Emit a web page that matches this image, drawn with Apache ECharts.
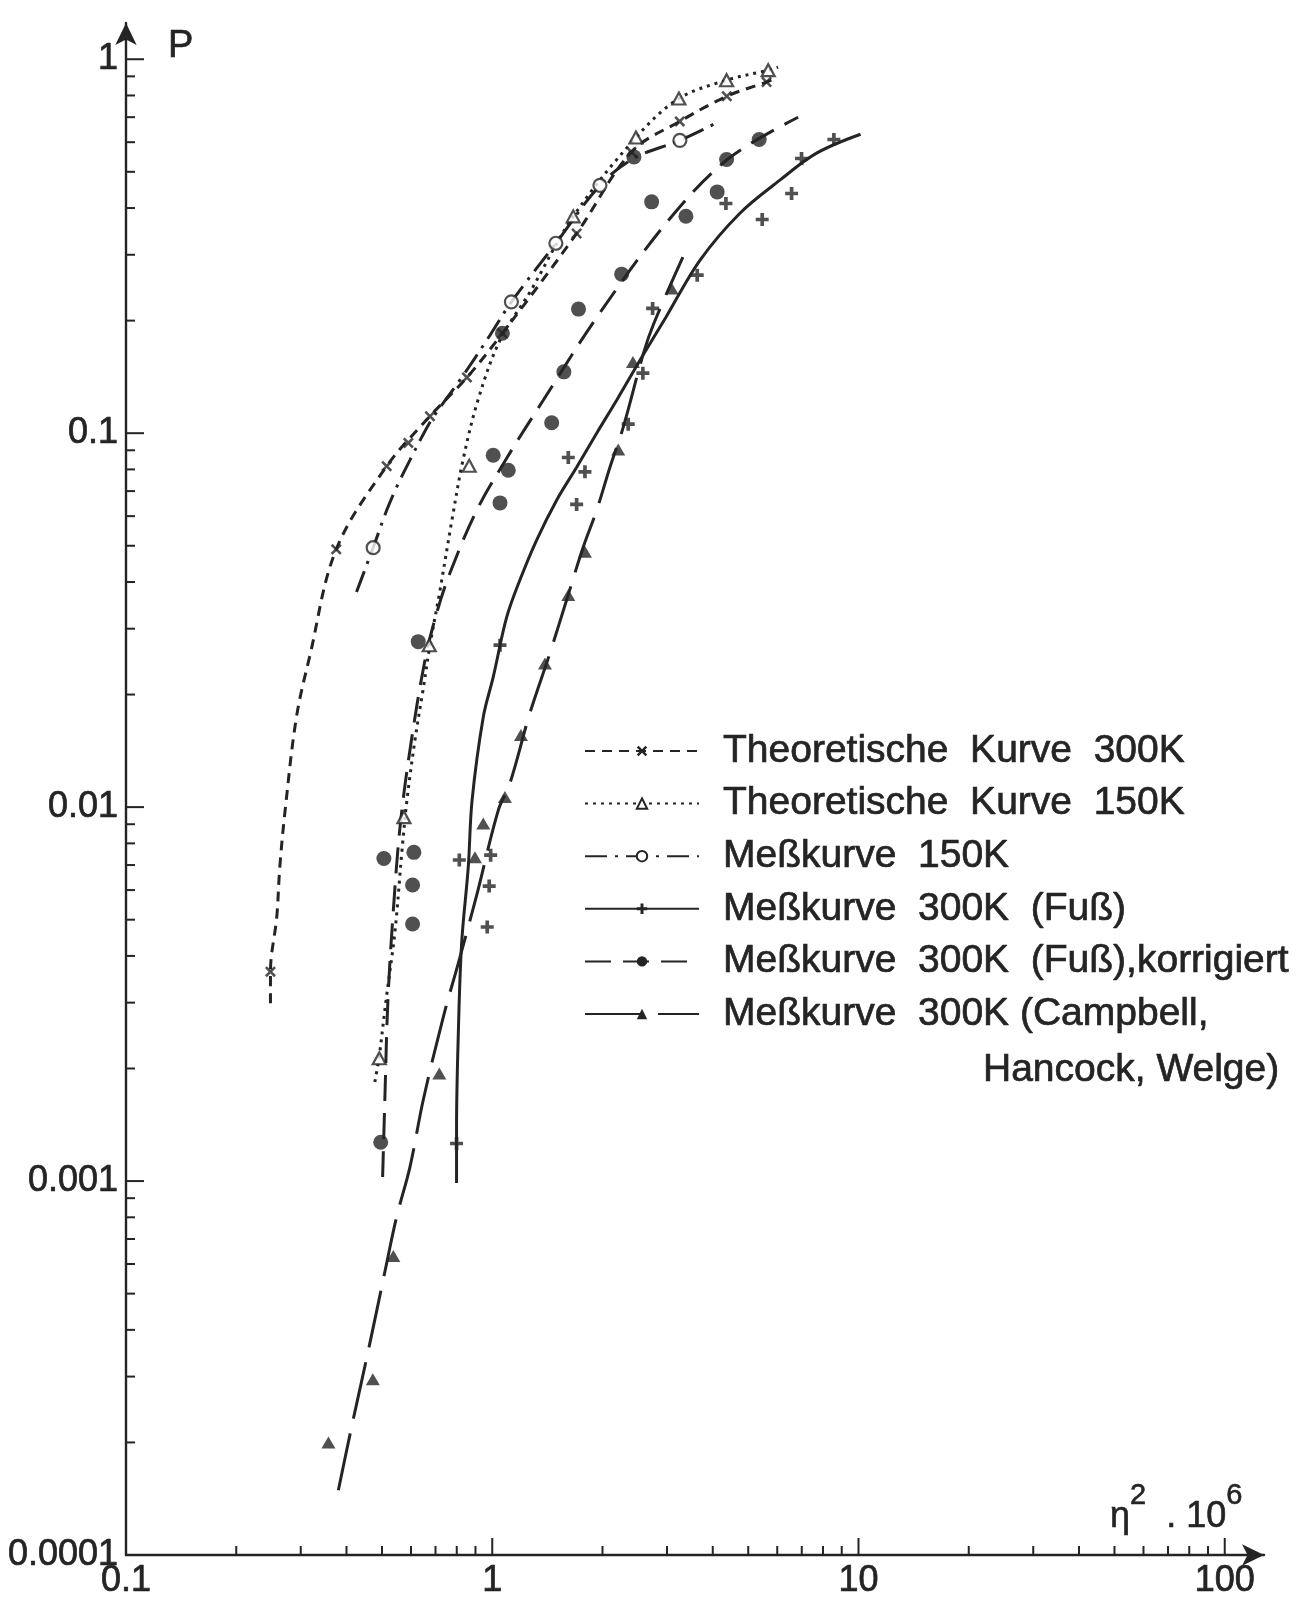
<!DOCTYPE html>
<html>
<head>
<meta charset="utf-8">
<script src="https://cdn.jsdelivr.net/npm/echarts@6/dist/echarts.min.js"></script>
<style>
  html, body { margin: 0; padding: 0; background: #ffffff; }
  #chart { width: 1300px; height: 1604px; }
</style>
</head>
<body>
<div id="chart"></div>
<script>
// Übergangswahrscheinlichkeit P über eta^2 * 10^6, doppelt logarithmisch

const INK = '#242424';

// axis ranges (the extra room past 100 and 1 carries the arrow heads)
const X_MIN = 0.1, X_MAX = 128;
const Y_MIN = 0.0001, Y_MAX = 1.25;

// tick structure: decades and the in-between marks 2..9
const xDecades = [0.1, 1, 10, 100];
const yDecades = [0.0001, 0.001, 0.01, 0.1, 1];
const mantissas = [2, 3, 4, 5, 6, 7, 8, 9];

// --- Theoretische Kurve 300 K ---
const theo300Marks = [
  [0.248, 0.00363], [0.375, 0.0489], [0.515, 0.0816], [0.590, 0.0942],
  [0.676, 0.111], [0.853, 0.141], [1.066, 0.185], [1.70, 0.342],
  [2.40, 0.565], [3.25, 0.682], [4.37, 0.796], [5.61, 0.869]
];
const theo300Curve = [
  [0.248, 0.00299], [0.248, 0.00363], [0.258, 0.00508], [0.263, 0.00691],
  [0.272, 0.00982], [0.292, 0.0174], [0.318, 0.0255], [0.375, 0.0489],
  [0.515, 0.0816], [0.676, 0.111], [0.853, 0.141], [1.066, 0.185],
  [1.70, 0.342], [2.40, 0.565], [3.25, 0.682], [4.37, 0.796],
  [5.61, 0.869], [6.03, 0.895]
];

// --- Theoretische Kurve 150 K ---
const theo150Marks = [
  [0.4915, 0.00213], [0.574, 0.0094], [0.673, 0.0271], [0.865, 0.0818],
  [1.664, 0.380], [2.468, 0.6175], [3.233, 0.785], [4.364, 0.879], [5.669, 0.935]
];
const theo150Curve = [
  [0.478, 0.00184], [0.4905, 0.00213], [0.513, 0.00305], [0.543, 0.00469],
  [0.567, 0.00767], [0.585, 0.01044], [0.615, 0.0151], [0.647, 0.02055],
  [0.676, 0.0271], [0.720, 0.0380], [0.776, 0.0585], [0.832, 0.0847],
  [0.914, 0.1225], [1.050, 0.1773], [1.267, 0.2382], [1.664, 0.380],
  [2.468, 0.6175], [3.233, 0.785], [4.364, 0.879], [5.669, 0.935], [6.03, 0.952]
];

// --- Meßkurve 150 K ---
const meas150Marks = [
  [0.473, 0.0494], [1.128, 0.2245], [1.492, 0.322], [1.968, 0.460], [3.253, 0.607]
];
const meas150Curve = [
  [0.426, 0.0376], [0.454, 0.0444], [0.473, 0.0494], [0.515, 0.0622],
  [0.548, 0.0717], [0.596, 0.0847], [0.642, 0.0976], [0.690, 0.1104],
  [0.816, 0.1386], [0.986, 0.1828], [1.128, 0.2245], [1.492, 0.322],
  [1.968, 0.460], [2.437, 0.5435], [3.253, 0.607], [4.183, 0.683]
];

// --- Meßkurve 300 K (Fuß) ---
const fussMarks = [
  [0.799, 0.00126], [0.813, 0.00722], [0.990, 0.00744], [0.981, 0.00615],
  [0.969, 0.00478], [1.050, 0.0271], [1.613, 0.0861], [1.791, 0.0788],
  [1.700, 0.0645], [2.351, 0.1057], [2.578, 0.1447], [2.741, 0.2156],
  [3.628, 0.2646], [4.345, 0.4114], [5.459, 0.3727], [6.567, 0.4375],
  [6.99, 0.5428], [8.566, 0.610]
];
const fussCurve = [
  [0.799, 0.000988], [0.799, 0.001394], [0.808, 0.002487], [0.825, 0.004328],
  [0.860, 0.00691], [0.881, 0.01044], [0.945, 0.0174], [1.006, 0.02226],
  [1.095, 0.0322], [1.190, 0.0405], [1.322, 0.0518], [1.499, 0.0662],
  [1.700, 0.0811], [1.928, 0.100], [2.186, 0.1225], [2.531, 0.1567],
  [2.980, 0.2043], [3.690, 0.290], [4.746, 0.3875], [6.101, 0.4749],
  [7.685, 0.5608], [10.13, 0.630]
];

// --- Meßkurve 300 K (Fuß), korrigiert ---
const korrMarks = [
  [0.496, 0.00127], [0.506, 0.00729], [0.611, 0.00757], [0.606, 0.00619],
  [0.606, 0.00487], [0.628, 0.0277], [1.006, 0.0873], [1.106, 0.0796],
  [1.050, 0.0651], [1.453, 0.1066], [1.569, 0.1459], [1.720, 0.2147],
  [2.256, 0.2662], [2.724, 0.4155], [3.379, 0.3803], [4.113, 0.4418],
  [4.364, 0.5393], [5.357, 0.610], [2.437, 0.548], [1.066, 0.185]
];
const korrCurve = [
  [0.502, 0.001025], [0.509, 0.001647], [0.519, 0.00305], [0.537, 0.0053],
  [0.560, 0.00884], [0.596, 0.0142], [0.655, 0.0247], [0.705, 0.0330],
  [0.766, 0.0422], [0.907, 0.0622], [1.095, 0.0857], [1.378, 0.1225],
  [1.931, 0.2043], [3.029, 0.3711], [4.428, 0.5435], [6.843, 0.6995]
];

// --- Meßkurve 300 K (Campbell, Hancock, Welge) ---
const campMarks = [
  [0.357, 0.000200], [0.472, 0.000295], [0.537, 0.00063], [0.717, 0.00194],
  [0.897, 0.00734], [0.945, 0.00904], [1.083, 0.01065], [1.198, 0.01558],
  [1.393, 0.0242], [1.613, 0.0369], [1.791, 0.0482], [2.208, 0.0904],
  [2.422, 0.1551], [3.089, 0.2437]
];
const campCurve = [
  [0.380, 0.000149], [0.413, 0.00022], [0.459, 0.000353], [0.509, 0.000571],
  [0.548, 0.000801], [0.596, 0.00109], [0.648, 0.001647], [0.735, 0.002745],
  [0.808, 0.003827], [0.907, 0.005816], [1.039, 0.00982], [1.118, 0.0116],
  [1.267, 0.01784], [1.437, 0.0258], [1.596, 0.0358], [1.772, 0.0496],
  [1.928, 0.0622], [2.096, 0.0811], [2.279, 0.1038], [2.588, 0.1637],
  [2.763, 0.1968], [3.315, 0.2955]
];

// series names and the text shown for each in the legend
const NAME_T300 = 'Theoretische Kurve 300 K';
const NAME_T150 = 'Theoretische Kurve 150 K';
const NAME_M150 = 'Meßkurve 150 K';
const NAME_FUSS = 'Meßkurve 300K (Fuß)';
const NAME_KORR = 'Meßkurve 300K (Fuß), korrigiert';
const NAME_CAMP = 'Meßkurve 300K (Campbell, Hancock, Welge)';
const legendText = {};
legendText[NAME_T300] = 'Theoretische  Kurve  300K';
legendText[NAME_T150] = 'Theoretische  Kurve  150K';
legendText[NAME_M150] = 'Meßkurve  150K';
legendText[NAME_FUSS] = 'Meßkurve  300K  (Fuß)';
legendText[NAME_KORR] = 'Meßkurve  300K  (Fuß),korrigiert';
legendText[NAME_CAMP] = 'Meßkurve  300K (Campbell,';
const legendSecondLine = 'Hancock, Welge)';

// marker shapes
const SYM_CROSS = 'path://M2,0L6,4L10,0L12,2L8,6L12,10L10,12L6,8L2,12L0,10L4,6L0,2Z';
const SYM_PLUS = 'path://M4.3,0H7.7V4.3H12V7.7H7.7V12H4.3V7.7H0V4.3H4.3Z';

const FONT = '"Liberation Sans", "DejaVu Sans", sans-serif';

function isDecade(v) {
  const e = Math.log10(v);
  return Math.abs(e - Math.round(e)) < 1e-6;
}
function decadeLabel(v) {
  if (!isDecade(v)) return '';
  const r = Math.round(Math.log10(v));
  return r >= 0 ? String(Math.pow(10, r)) : Math.pow(10, r).toFixed(-r);
}

// tick positions along both axes
const xTicks = [];
xDecades.forEach(function (d, i) {
  if (i > 0) xTicks.push(d);
  if (i < xDecades.length - 1) mantissas.forEach(function (m) { xTicks.push(m * d); });
});
const yTicks = [];
yDecades.forEach(function (d, i) {
  if (i > 0) yTicks.push(d);
  if (i < yDecades.length - 1) mantissas.forEach(function (m) { yTicks.push(m * d); });
});

function curve(name, data, symbol, lineStyle) {
  return {
    name: name, type: 'line', data: data, smooth: 0.35,
    showSymbol: false, symbol: symbol, symbolSize: 10,
    lineStyle: Object.assign({ color: INK, width: 3 }, lineStyle),
    itemStyle: { color: INK },
    z: 2, silent: true
  };
}
function marks(name, data, symbol, size, hollow) {
  return {
    name: name, type: 'scatter', data: data, symbol: symbol, symbolSize: size,
    itemStyle: hollow ? { color: '#ffffff', borderColor: INK, borderWidth: 2.2 } : { color: INK },
    z: 3, silent: true
  };
}

const labelStyle = {
  formatter: decadeLabel, fontFamily: FONT, fontSize: 36, color: INK,
  textBorderColor: INK, textBorderWidth: 0.7,
  showMinLabel: true, showMaxLabel: false, hideOverlap: false
};

const series = [
  curve(NAME_T300, theo300Curve, SYM_CROSS, { type: [10, 7] }),
  curve(NAME_T150, theo150Curve, 'emptyTriangle', { type: [3, 5], width: 3 }),
  curve(NAME_M150, meas150Curve, 'emptyCircle', { type: [22, 8, 3, 8] }),
  curve(NAME_FUSS, fussCurve, SYM_PLUS, { type: 'solid' }),
  curve(NAME_KORR, korrCurve, 'circle', { type: [26, 12] }),
  curve(NAME_CAMP, campCurve, 'triangle', { type: [58, 15] }),

  marks(NAME_T300, theo300Marks, SYM_CROSS, 11, false),
  marks(NAME_T150, theo150Marks, 'triangle', [13, 12], true),
  marks(NAME_M150, meas150Marks, 'circle', 13, true),
  marks(NAME_FUSS, fussMarks, SYM_PLUS, 13, false),
  marks(NAME_KORR, korrMarks, 'circle', 15, false),
  marks(NAME_CAMP, campMarks, 'triangle', [14, 12], false),

  // tick marks on the horizontal axis
  {
    type: 'custom', silent: true, clip: false, z: 4,
    data: xTicks.map(function (v) { return [v, Y_MIN]; }),
    renderItem: function (params, api) {
      const v = api.value(0);
      const p = api.coord([v, api.value(1)]);
      const len = isDecade(v) ? 17 : 9;
      return { type: 'line', shape: { x1: p[0], y1: p[1], x2: p[0], y2: p[1] - len },
               style: { stroke: INK, lineWidth: 2 } };
    }
  },
  // tick marks on the vertical axis
  {
    type: 'custom', silent: true, clip: false, z: 4,
    data: yTicks.map(function (v) { return [X_MIN, v]; }),
    renderItem: function (params, api) {
      const v = api.value(1);
      const p = api.coord([api.value(0), v]);
      const len = isDecade(v) ? 18 : 9;
      return { type: 'line', shape: { x1: p[0], y1: p[1], x2: p[0] + len, y2: p[1] },
               style: { stroke: INK, lineWidth: 2 } };
    }
  }
];

const chart = echarts.init(document.getElementById('chart'), null, { renderer: 'canvas' });

chart.setOption({
  backgroundColor: '#ffffff',
  animation: false,
  grid: { left: 126, right: 36, top: 23, bottom: 49, containLabel: false, outerBoundsMode: 'none' },
  xAxis: {
    type: 'log', logBase: 10, min: X_MIN, max: X_MAX,
    axisLine: { show: true, onZero: false, symbol: ['none', 'arrow'], symbolSize: [16, 22],
                lineStyle: { color: INK, width: 2.4 } },
    axisTick: { show: false },
    minorTick: { show: false },
    splitLine: { show: false },
    axisLabel: Object.assign({ margin: 8 }, labelStyle)
  },
  yAxis: {
    type: 'log', logBase: 10, min: Y_MIN, max: Y_MAX,
    axisLine: { show: true, onZero: false, symbol: ['none', 'arrow'], symbolSize: [16, 22],
                lineStyle: { color: INK, width: 2.4 } },
    axisTick: { show: false },
    minorTick: { show: false },
    splitLine: { show: false },
    axisLabel: Object.assign({ margin: 8 }, labelStyle)
  },
  legend: {
    orient: 'vertical', left: 584, top: 729, padding: 0,
    itemWidth: 114, itemHeight: 13, itemGap: 8.6,
    selectedMode: false,
    data: [NAME_T300, NAME_T150, NAME_M150, NAME_FUSS, NAME_KORR, NAME_CAMP],
    formatter: function (name) { return legendText[name]; },
    textStyle: { fontFamily: FONT, fontSize: 39, color: INK, lineHeight: 44,
                 textBorderColor: INK, textBorderWidth: 0.7, padding: [0, 0, 0, 19] }
  },
  graphic: [
    {
      type: 'text', x: 168, y: 47, silent: true,
      style: { text: 'P', font: '38px ' + FONT, fill: INK, stroke: INK, lineWidth: 0.7,
               verticalAlign: 'middle' }
    },
    {
      type: 'text', x: 1110, y: 1508, silent: true,
      style: {
        text: '{b|η}{s|2}{b|  . 10}{s|6}',
        verticalAlign: 'middle', fill: INK, stroke: INK, lineWidth: 0.6,
        rich: {
          b: { fontFamily: FONT, fontSize: 36, lineHeight: 54, verticalAlign: 'bottom', fill: INK },
          s: { fontFamily: FONT, fontSize: 29, lineHeight: 29, verticalAlign: 'top', fill: INK }
        }
      }
    },
    {
      type: 'text', x: 983, y: 1070, silent: true,
      style: { text: legendSecondLine, font: '39px ' + FONT, fill: INK, stroke: INK, lineWidth: 0.7,
               verticalAlign: 'middle' }
    }
  ],
  series: series
});
</script>
</body>
</html>
